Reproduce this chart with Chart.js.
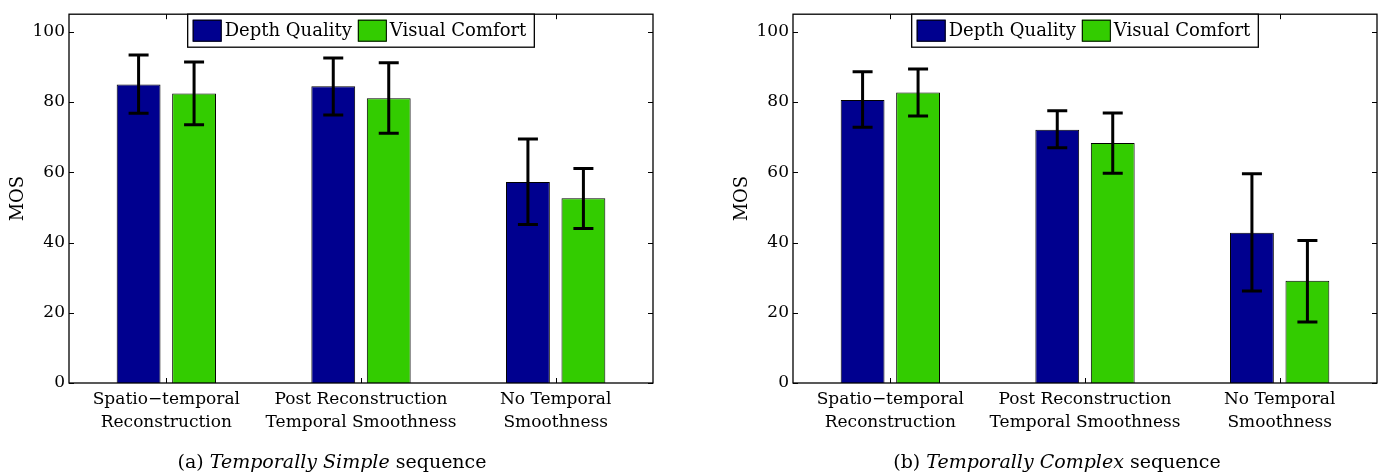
<!DOCTYPE html>
<html><head><meta charset="utf-8">
<script src="https://cdn.jsdelivr.net/npm/chart.js@4"></script>
<style>
html,body{margin:0;padding:0;background:#fff;}
body{width:1381px;height:472px;position:relative;overflow:hidden;font-family:'DejaVu Serif',serif;}
.wrap{position:absolute;top:0;height:472px;}
#wa{left:0;width:700px;}
#wb{left:724px;width:657px;}
canvas{display:block;}
.cap{position:absolute;top:449px;font-size:19px;line-height:24px;color:#000;white-space:nowrap;transform:translateX(-50%);}
</style></head>
<body>
<div class="wrap" id="wa"><canvas id="ca" width="700" height="472"></canvas></div>
<div class="wrap" id="wb"><canvas id="cb" width="657" height="472"></canvas></div>
<div class="cap" style="left:332px">(a) <i>Temporally Simple</i> sequence</div>
<div class="cap" style="left:1057px">(b) <i>Temporally Complex</i> sequence</div>
<script>
const categories = [["Spatio\u2212temporal","Reconstruction"],["Post Reconstruction","Temporal Smoothness"],["No Temporal","Smoothness"]];
const seriesNames = ["Depth Quality","Visual Comfort"];
const seriesColors = ["#00008F","#33CC00"];
const yTicks = [0,20,40,60,80,100];

// (a) Temporally Simple sequence
const simpleDepthMean = [85.0, 84.5, 57.2];
const simpleDepthLow  = [76.8, 76.3, 45.1];
const simpleDepthHigh = [93.4, 92.5, 69.5];
const simpleComfortMean = [82.4, 81.1, 52.6];
const simpleComfortLow  = [73.5, 71.1, 44.0];
const simpleComfortHigh = [91.4, 91.2, 61.1];

// (b) Temporally Complex sequence
const complexDepthMean = [80.6, 72.1, 42.8];
const complexDepthLow  = [72.8, 67.0, 26.2];
const complexDepthHigh = [88.6, 77.5, 59.6];
const complexComfortMean = [82.7, 68.3, 29.1];
const complexComfortLow  = [76.0, 59.7, 17.4];
const complexComfortHigh = [89.4, 76.9, 40.6];

const FONT = "'DejaVu Serif', serif";
Chart.defaults.font.family = FONT;
Chart.defaults.color = '#000';

const decorPlugin = {
  id: 'decor',
  afterDatasetsDraw(chart) {
    const {ctx, scales: {y}} = chart;
    ctx.save();
    ctx.strokeStyle = '#000';
    ctx.lineWidth = 3;
    ctx.lineCap = 'butt';
    chart.data.datasets.forEach((ds, di) => {
      const meta = chart.getDatasetMeta(di);
      meta.data.forEach((bar, i) => {
        const yt = y.getPixelForValue(ds.errHigh[i]);
        const yb = y.getPixelForValue(ds.errLow[i]);
        const cx = bar.x;
        ctx.beginPath();
        ctx.moveTo(cx, yt); ctx.lineTo(cx, yb);
        ctx.moveTo(cx - 10, yt); ctx.lineTo(cx + 10, yt);
        ctx.moveTo(cx - 10, yb); ctx.lineTo(cx + 10, yb);
        ctx.stroke();
      });
    });
    ctx.restore();
  },
  afterDraw(chart) {
    const {ctx, chartArea: a, scales: {x, y}} = chart;
    ctx.save();
    ctx.strokeStyle = '#000';
    ctx.lineWidth = 1.3;
    ctx.strokeRect(a.left, a.top, a.right - a.left, a.bottom - a.top);
    ctx.lineWidth = 1;
    const L = 5;
    ctx.beginPath();
    y.ticks.forEach(t => {
      const py = Math.round(y.getPixelForValue(t.value)) + 0.5;
      ctx.moveTo(a.left, py); ctx.lineTo(a.left + L, py);
      ctx.moveTo(a.right, py); ctx.lineTo(a.right - L, py);
    });
    x.ticks.forEach((t, i) => {
      const px = Math.round(x.getPixelForTick(i)) + 0.5;
      ctx.moveTo(px, a.bottom); ctx.lineTo(px, a.bottom - L);
      ctx.moveTo(px, a.top); ctx.lineTo(px, a.top + L);
    });
    ctx.stroke();
    // legend
    ctx.font = "18px " + FONT;
    ctx.textBaseline = 'middle';
    ctx.textAlign = 'left';
    const padL = 5, sw = 29, sh = 22, g1 = 3, g2 = 6, padR = 8;
    const ds = chart.data.datasets;
    let total = padL + padR;
    const widths = ds.map(d => ctx.measureText(d.label).width);
    ds.forEach((d, i) => { total += sw + g1 + widths[i] + (i < ds.length - 1 ? g2 : 0); });
    const bh = 33;
    const bx = (a.left + a.right) / 2 - total / 2;
    const by = a.top;
    ctx.fillStyle = '#fff';
    ctx.fillRect(bx, by, total, bh);
    ctx.lineWidth = 1.3;
    ctx.strokeRect(bx, by, total, bh);
    let cx = bx + padL;
    ds.forEach((d, i) => {
      const sy = by + (bh - sh) / 2;
      ctx.fillStyle = d.backgroundColor;
      ctx.fillRect(cx, sy, sw, sh);
      ctx.lineWidth = 1;
      ctx.strokeStyle = '#000';
      ctx.strokeRect(cx + 0.5, sy + 0.5, sw - 1, sh - 1);
      cx += sw + g1;
      ctx.fillStyle = '#000';
      ctx.fillText(d.label, cx, by + bh / 2 + 1);
      cx += widths[i] + g2;
    });
    ctx.restore();
  }
};

function makeChart(id, rightPad, means, lows, highs) {
  return new Chart(document.getElementById(id), {
    type: 'bar',
    data: {
      labels: categories,
      datasets: seriesNames.map((name, k) => ({
        label: name,
        data: means[k],
        errLow: lows[k],
        errHigh: highs[k],
        backgroundColor: seriesColors[k],
        borderColor: '#000',
        borderWidth: 1,
        categoryPercentage: 0.57,
        barPercentage: 0.79
      }))
    },
    options: {
      responsive: false,
      animation: false,
      devicePixelRatio: 1,
      layout: {padding: {left: 0, right: rightPad, top: 13, bottom: 0}},
      plugins: {legend: {display: false}, tooltip: {enabled: false}},
      scales: {
        x: {
          grid: {display: false, drawTicks: false},
          border: {display: false},
          ticks: {font: {size: 17, lineHeight: 1.35}, color: '#000', padding: 5, maxRotation: 0, autoSkip: false},
          afterFit(s) { s.height = 89; }
        },
        y: {
          min: 0, max: 105,
          grid: {display: false, drawTicks: false},
          border: {display: false},
          ticks: {font: {size: 17}, color: '#000', padding: 4},
          afterBuildTicks(s) { s.ticks = yTicks.map(v => ({value: v})); },
          afterFit(s) { s.width = 69; },
          title: {display: true, text: 'MOS', font: {size: 18}, color: '#000', padding: {top: 8, bottom: 0}}
        }
      }
    },
    plugins: [decorPlugin]
  });
}

makeChart('ca', 47,
  [simpleDepthMean, simpleComfortMean],
  [simpleDepthLow, simpleComfortLow],
  [simpleDepthHigh, simpleComfortHigh]);
makeChart('cb', 4,
  [complexDepthMean, complexComfortMean],
  [complexDepthLow, complexComfortLow],
  [complexDepthHigh, complexComfortHigh]);
</script>
</body></html>
